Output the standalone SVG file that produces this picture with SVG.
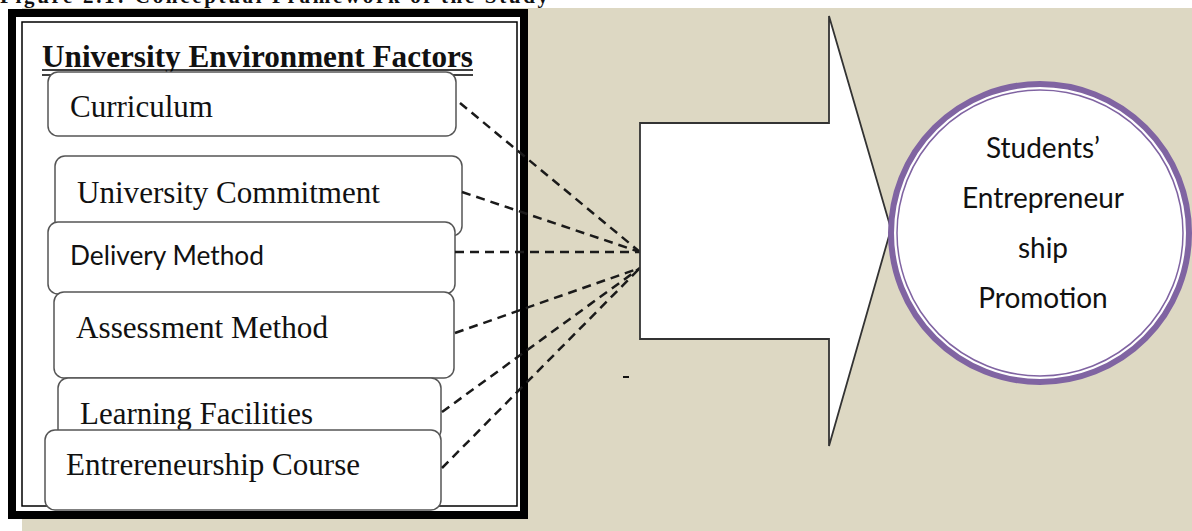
<svg xmlns="http://www.w3.org/2000/svg" width="1192" height="531" viewBox="0 0 1192 531">
<defs>
<style>
.serif{font-family:"Liberation Serif","Times New Roman",serif;fill:#111;}
.sans{font-family:Lato,"Open Sans","Liberation Sans",sans-serif;fill:#111;}
.box{fill:#fff;stroke:#555;stroke-width:1.5;}
.conn{stroke:#1a1a1a;stroke-width:2.5;stroke-dasharray:9 6;fill:none;}
</style>
</defs>
<rect x="0" y="0" width="1192" height="531" fill="#fff"/>
<rect x="22" y="8" width="1170" height="523" fill="#ddd8c3"/>
<text class="serif" x="0" y="3" font-size="21" font-weight="bold" textLength="548">Figure 2.1: Conceptual Framework of the Study</text>

<g id="factors-frame">
<rect x="12" y="13" width="512" height="502" fill="#fff" stroke="#000" stroke-width="8"/>
<rect x="22" y="22" width="495" height="484" fill="none" stroke="#000" stroke-width="1.5"/>
<text class="serif" x="42" y="67" font-size="32" font-weight="bold" textLength="431" lengthAdjust="spacingAndGlyphs">University Environment Factors</text>
<line x1="42" y1="70" x2="473" y2="70" stroke="#000" stroke-width="1.5"/>
<line x1="42" y1="75" x2="473" y2="75" stroke="#000" stroke-width="1.5"/>
</g>

<g id="node-curriculum">
<rect class="box" x="48" y="72" width="408" height="64" rx="10"/>
<text class="serif" x="70" y="117" font-size="31" textLength="143" lengthAdjust="spacingAndGlyphs">Curriculum</text>
</g>
<g id="node-commitment">
<rect class="box" x="55" y="156" width="407" height="80" rx="10"/>
<text class="serif" x="77" y="203" font-size="31" textLength="303" lengthAdjust="spacingAndGlyphs">University Commitment</text>
</g>
<g id="node-delivery">
<rect class="box" x="48" y="222" width="407" height="72" rx="10"/>
<text class="sans" x="70" y="265" font-size="26" textLength="194" lengthAdjust="spacingAndGlyphs">Delivery Method</text>
</g>
<g id="node-assessment">
<rect class="box" x="54" y="292" width="400" height="86" rx="10"/>
<text class="serif" x="76" y="338" font-size="31" textLength="252" lengthAdjust="spacingAndGlyphs">Assessment Method</text>
</g>
<g id="node-learning">
<rect class="box" x="58" y="378" width="383" height="62" rx="10"/>
<text class="serif" x="80" y="424" font-size="31" textLength="233" lengthAdjust="spacingAndGlyphs">Learning Facilities</text>
</g>
<g id="node-course">
<rect class="box" x="45" y="430" width="396" height="80" rx="10"/>
<text class="serif" x="66" y="475" font-size="31" textLength="294" lengthAdjust="spacingAndGlyphs">Entrereneurship Course</text>
</g>

<g id="connectors">
<line class="conn" x1="460" y1="103" x2="640" y2="252"/>
<line class="conn" x1="462" y1="192" x2="640" y2="252"/>
<line class="conn" x1="455" y1="252" x2="640" y2="252"/>
<line class="conn" x1="455" y1="333" x2="640" y2="268"/>
<line class="conn" x1="442" y1="412" x2="640" y2="268"/>
<line class="conn" x1="442" y1="468" x2="640" y2="268"/>
<line x1="623" y1="377" x2="629" y2="377" stroke="#111" stroke-width="2"/>
</g>

<g id="big-arrow">
<polygon points="640,123 829,123 829,16 891,229 829,446 829,339 640,339" fill="#fff" stroke="#333" stroke-width="1.8" stroke-linejoin="miter"/>
</g>

<g id="node-outcome">
<circle cx="1040" cy="233" r="149" fill="#fff" stroke="#8064a2" stroke-width="6"/>
<circle cx="1040" cy="233" r="143" fill="none" stroke="#8064a2" stroke-width="1.5"/>
<g class="sans" font-size="28" text-anchor="middle">
<text x="1043" y="158">Students’</text>
<text x="1043" y="208">Entrepreneur</text>
<text x="1043" y="258">ship</text>
<text x="1043" y="308">Promotion</text>
</g>
</g>
</svg>
